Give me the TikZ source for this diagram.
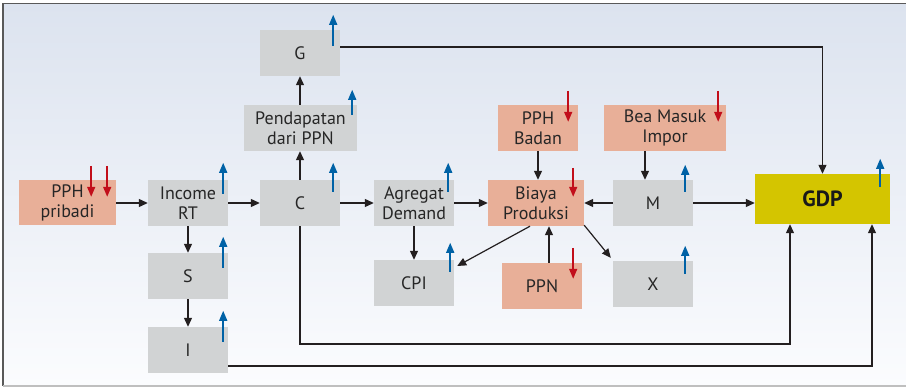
\documentclass[tikz,border=0pt]{standalone}
\usepackage{fontspec}
\setmainfont{PT Sans}
\usetikzlibrary{arrows.meta,calc}
\definecolor{boxgray}{HTML}{D1D3D4}
\definecolor{salmon}{HTML}{E8AF98}
\definecolor{gdpyellow}{HTML}{D4C500}
\definecolor{upblue}{HTML}{0062A6}
\definecolor{downred}{HTML}{C20E1A}
\definecolor{linecol}{HTML}{231F20}
\definecolor{bgtop}{HTML}{DCE3EF}
\definecolor{bgbot}{HTML}{FBFCFE}
\tikzset{
  box/.style={fill=boxgray, inner sep=0pt, minimum width=80pt, minimum height=46pt,
    align=center, font=\fontsize{18}{20}\selectfont, text=black!85},
  tax/.style={box, fill=salmon},
  conn/.style={draw=linecol, line width=1.2pt, -{Triangle[length=9pt,width=8pt]}},
  upar/.style={draw=upblue, line width=1.5pt, -{Triangle[length=10pt,width=8pt]}},
  downar/.style={draw=downred, line width=1.5pt, -{Triangle[length=10pt,width=8pt]}}
}
\begin{document}
\begin{tikzpicture}[x=1pt,y=-1pt]
\useasboundingbox (0,0) rectangle (906,387);
\fill[white] (0,0) rectangle (906,387);
\shade[top color=bgtop, bottom color=bgbot] (3,4) rectangle (906,386);
\draw[black!65, line width=1.5pt] (3,386) -- (3,3.5) -- (906,3.5);
\draw[black!25, line width=1.2pt] (3,386) -- (906,386);

% nodes
\node[box] (G) at (300,53) {G};
\node[box, minimum width=113pt] (Pend) at (300.5,128) {Pendapatan\\dari PPN};
\node[tax, minimum width=97pt, minimum height=45pt] (PPHp) at (67.5,202.5) {PPH\\pribadi};
\node[box] (Inc) at (188,203) {Income\\RT};
\node[box] (C) at (300,203) {C};
\node[box] (AD) at (414,203) {Agregat\\Demand};
\node[box] (S) at (188,276) {S};
\node[box] (I) at (188,350) {I};
\node[box] (CPI) at (414,283) {CPI};
\node[tax] (PPHB) at (538,128) {PPH\\Badan};
\node[tax, minimum width=122pt] (Bea) at (665,128) {Bea Masuk\\Impor};
\node[tax, minimum width=96pt] (Biaya) at (536,203) {Biaya\\Produksi};
\node[box] (M) at (653,203) {M};
\node[box, fill=gdpyellow, minimum width=135pt, minimum height=50pt,
  font=\fontsize{22}{24}\bfseries, text=black!90] (GDP) at (822.5,199) {GDP};
\node[tax] (PPN) at (542,286) {PPN};
\node[box] (X) at (653,284) {X};

% connectors
\draw[conn] (G.east |- 0,47) -| (GDP.north);
\draw[conn] (Pend.north -| G.south) -- (G.south);
\draw[conn] (C.north) -- (Pend.south -| C.north);
\draw[conn] (PPHp.east |- 0,203) -- (Inc.west);
\draw[conn] (Inc.east) -- (C.west);
\draw[conn] (C.east) -- (AD.west);
\draw[conn] (AD.east) -- (Biaya.west);
\draw[conn] (M.west) -- (Biaya.east);
\draw[conn] (M.east) -- (GDP.west |- M.east);
\draw[conn] (Inc.south) -- (S.north);
\draw[conn] (S.south) -- (I.north);
\draw[conn] (AD.south) -- (CPI.north);
\draw[conn] (PPHB.south) -- (Biaya.north -| PPHB.south);
\draw[conn] (Bea.south -| 645,0) -- (M.north -| 645,0);
\draw[conn] (PPN.north -| 549,0) -- (Biaya.south -| 549,0);
\draw[conn] (Biaya.south -| 530,0) -- ($(CPI.east)+(3,-17)$);
\draw[conn] ($(Biaya.south east)+(0,-1)$) -- ($(X.north west)+(-2,-3)$);
\draw[conn] (C.south) |- (790,344) -- (GDP.south -| 790,0);
\draw[conn] (I.east |- 0,366) -| (GDP.south -| 872,0);

% indicator arrows
\draw[upar] ($(G.north east)+(-7,16)$) -- ++(0,-31);
\draw[upar] ($(Pend.north east)+(-5,10)$) -- ++(0,-25);
\draw[upar] ($(Inc.north east)+(-5,14)$) -- ++(0,-31);
\draw[upar] ($(C.north east)+(-7,12)$) -- ++(0,-29);
\draw[upar] ($(AD.north east)+(-6,12)$) -- ++(0,-29);
\draw[upar] ($(S.north east)+(-5,15)$) -- ++(0,-31);
\draw[upar] ($(I.north east)+(-5,15)$) -- ++(0,-31);
\draw[upar] ($(CPI.north east)+(-4,12)$) -- ++(0,-29);
\draw[upar] ($(M.north east)+(-8,12)$) -- ++(0,-27);
\draw[upar] ($(X.north east)+(-8,13)$) -- ++(0,-28);
\draw[upar] ($(GDP.north east)+(-10,13)$) -- ++(0,-28);

\draw[downar] ($(PPHp.north east)+(-25,-14)$) -- ++(0,31);
\draw[downar] ($(PPHp.north east)+(-9,-14)$) -- ++(0,31);
\draw[downar] ($(PPHB.north east)+(-10,-14)$) -- ++(0,31);
\draw[downar] ($(Bea.north east)+(-8,-14)$) -- ++(0,31);
\draw[downar] ($(Biaya.north east)+(-11,-12)$) -- ++(0,29);
\draw[downar] ($(PPN.north east)+(-9,-15)$) -- ++(0,31);
\end{tikzpicture}
\end{document}
